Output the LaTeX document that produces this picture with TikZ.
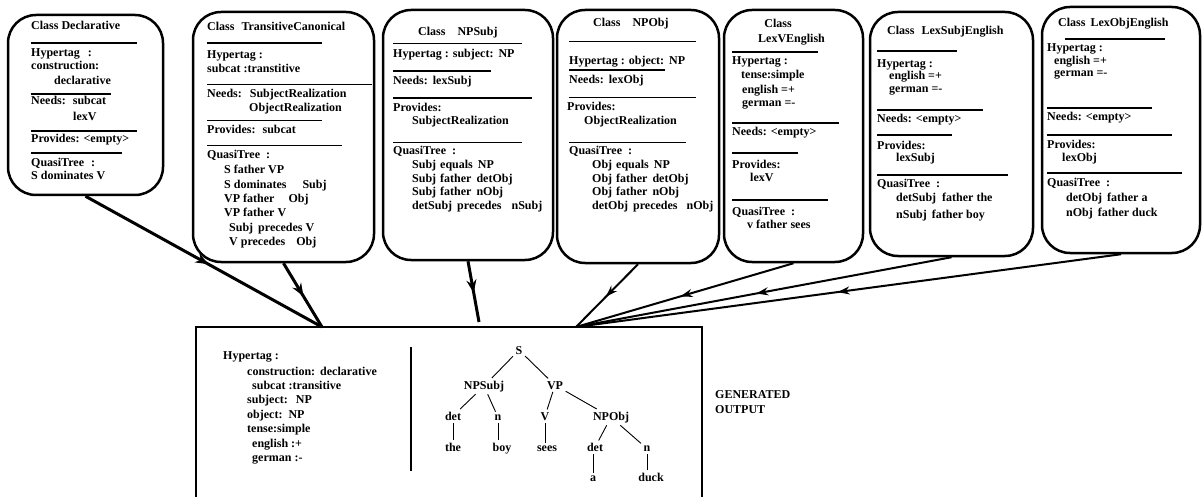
\documentclass[tikz,border=0pt]{standalone}
\usepackage{fontspec}
\setmainfont{Liberation Serif}
\usetikzlibrary{arrows.meta,decorations.markings}
\newcommand{\tl}[4]{\node[tx] (#1) at (#2,#3) {#4};}
\begin{document}
\begin{tikzpicture}[x=1pt,y=-1pt,
  cbox/.style={draw,line width=2.5pt,rounded corners=28pt,inner sep=0pt},
  tx/.style={anchor=base west,inner sep=0pt,font=\fontsize{12}{14}\selectfont\bfseries},
  tn/.style={anchor=base,inner sep=2.5pt,font=\fontsize{12}{14}\selectfont\bfseries},
  rl/.style={line width=1.2pt},
  tree/.style={line width=0.9pt},
  conn/.style={line width=2pt,postaction={decorate},decoration={markings,mark=at position 0.52 with {\arrow{Stealth[length=12pt,width=8pt]}}}},
  connthick/.style={line width=3pt,postaction={decorate},decoration={markings,mark=at position 0.52 with {\arrow{Stealth[length=13pt,width=10pt]}}}}]
\useasboundingbox (0,0) rectangle (1202,497);
\fill[white] (0,0) rectangle (1202,497);

% ---------- class boxes ----------
\node[cbox,minimum width=155pt,minimum height=180pt] (b1) at (85.5,105) {};
\node[cbox,minimum width=181pt,minimum height=250pt] (b2) at (283.5,137) {};
\node[cbox,minimum width=170pt,minimum height=250pt] (b3) at (468,135) {};
\node[cbox,minimum width=162pt,minimum height=253pt] (b4) at (638,136.5) {};
\node[cbox,minimum width=139pt,minimum height=252pt] (b5) at (793.5,136) {};
\node[cbox,minimum width=163pt,minimum height=244pt] (b6) at (951.5,134) {};
\node[cbox,minimum width=158pt,minimum height=246pt] (b7) at (1121,130) {};

% Box 1
\tl{d1}{31}{30}{Class Declarative}
\draw[rl] (31,43) -- (137,43);
\tl{d2}{31}{57}{Hypertag\hspace{8pt}:}
\tl{d3}{31}{70}{construction:}
\tl{d4}{54}{85}{declarative}
\draw[rl] (31,94) -- (111,94);
\tl{d5}{31}{104.5}{Needs:\hspace{7pt}subcat}
\tl{d6}{73}{121}{lexV}
\draw[rl] (31,131) -- (137,131);
\tl{d7}{31}{143}{Provides: <empty>}
\draw[rl] (31,153) -- (122,153);
\tl{d8}{31}{167}{QuasiTree\hspace{7pt}:}
\tl{d9}{31}{180}{S dominates V}

% Box 2
\tl{t1}{207}{31}{Class\hspace{7pt}TransitiveCanonical}
\draw[rl] (207,43) -- (322,43);
\tl{t2}{207}{58.5}{Hypertag :}
\tl{t3}{207}{72.5}{subcat :transtitive}
\draw[rl] (207,84.3) -- (372,84.3);
\tl{t4}{207}{98}{Needs:\hspace{8pt}SubjectRealization}
\tl{t5}{249}{112}{ObjectRealization}
\draw[rl] (207,120.7) -- (322,120.7);
\tl{t6}{207}{134}{Provides:\hspace{7pt}subcat}
\draw[rl] (207,145.7) -- (342,145.7);
\tl{t7}{207}{159}{QuasiTree\hspace{6pt}:}
\tl{t8}{224}{174}{S father VP}
\tl{t9}{224}{188.5}{S dominates\hspace{16pt}Subj}
\tl{t10}{224}{202.5}{VP father\hspace{14pt}Obj}
\tl{t11}{224}{217}{VP father V}
\tl{t12}{229}{232}{Subj\hspace{5pt}precedes V}
\tl{t13}{229}{246}{V precedes\hspace{11pt}Obj}

% Box 3
\tl{n1}{418}{36}{Class\hspace{12pt}NPSubj}
\draw[rl] (393,43.3) -- (522,43.3);
\tl{n2}{393}{57.5}{Hypertag : subject:\hspace{5pt}NP}
\draw[rl] (393,71) -- (491,71);
\tl{n3}{393}{84.5}{Needs:\hspace{5pt}lexSubj}
\draw[rl] (393,98) -- (532,98);
\tl{n4}{393}{111.5}{Provides:}
\tl{n5}{412}{125}{SubjectRealization}
\draw[rl] (393,142.7) -- (522,142.7);
\tl{n6}{393}{155}{QuasiTree\hspace{6pt}:}
\tl{n7}{412}{169}{Subj\hspace{4pt}equals\hspace{5pt}NP}
\tl{n8}{412}{182.5}{Subj\hspace{4pt}father\hspace{5pt}detObj}
\tl{n9}{412}{196}{Subj\hspace{4pt}father\hspace{5pt}nObj}
\tl{n10}{412}{210}{detSubj\hspace{5pt}precedes\hspace{10pt}nSubj}

% Box 4
\tl{o1}{593}{27}{Class\hspace{12pt}NPObj}
\draw[rl] (569,41.7) -- (696,41.7);
\tl{o2}{569}{65}{Hypertag : object:\hspace{5pt}NP}
\draw[rl] (569,70) -- (665,70);
\tl{o3}{569}{83.5}{Needs:\hspace{5pt}lexObj}
\draw[rl] (569,97.3) -- (696,97.3);
\tl{o4}{567}{111}{Provides:}
\tl{o5}{584}{125}{ObjectRealization}
\draw[rl] (569,142.3) -- (686,142.3);
\tl{o6}{569}{155}{QuasiTree\hspace{6pt}:}
\tl{o7}{592}{169}{Obj\hspace{4pt}equals\hspace{5pt}NP}
\tl{o8}{592}{182.5}{Obj\hspace{4pt}father\hspace{5pt}detObj}
\tl{o9}{592}{196}{Obj\hspace{4pt}father\hspace{5pt}nObj}
\tl{o10}{592}{210}{detObj\hspace{5pt}precedes\hspace{9pt}nObj}

% Box 5
\node[tx,anchor=base] (v1) at (778,28) {Class};
\tl{v2}{758}{43}{LexVEnglish}
\draw[rl] (732,52) -- (818,52);
\tl{v3}{732}{64.5}{Hypertag :}
\tl{v4}{741}{79}{tense:simple}
\tl{v5}{742}{94}{english =+}
\tl{v6}{742}{107}{german =-}
\draw[rl] (732,123) -- (839,123);
\tl{v7}{732}{136}{Needs: <empty>}
\draw[rl] (732,153) -- (798,153);
\tl{v8}{732}{168.5}{Provides:}
\tl{v9}{750}{182}{lexV}
\draw[rl] (732,200) -- (828,200);
\tl{v10}{732}{215}{QuasiTree\hspace{6pt}:}
\tl{v11}{747}{228.5}{v father sees}

% Box 6
\tl{s1}{887}{35}{Class\hspace{7pt}LexSubjEnglish}
\draw[rl] (877,51) -- (957,51);
\tl{s2}{877}{67.5}{Hypertag :}
\tl{s3}{889}{79.5}{english =+}
\tl{s4}{889}{93}{german =-}
\draw[rl] (877,110) -- (983,110);
\tl{s5}{877}{123}{Needs: <empty>}
\draw[rl] (877,135) -- (952,135);
\tl{s6}{877}{149.5}{Provides:}
\tl{s7}{896}{162}{lexSubj}
\draw[rl] (877,175) -- (1008,175);
\tl{s8}{877}{187.5}{QuasiTree\hspace{6pt}:}
\tl{s9}{896}{202}{detSubj\hspace{6pt}father the}
\tl{s10}{896}{218.5}{nSubj\hspace{5pt}father boy}

% Box 7
\tl{l1}{1058}{27}{Class\hspace{5pt}LexObjEnglish}
\draw[rl] (1065,39) -- (1165,39);
\tl{l2}{1047}{52}{Hypertag :}
\tl{l3}{1054}{64.5}{english =+}
\tl{l4}{1054}{77}{german =-}
\draw[rl] (1047,108) -- (1152,108);
\tl{l5}{1047}{121}{Needs: <empty>}
\draw[rl] (1047,135) -- (1172,135);
\tl{l6}{1047}{148.5}{Provides:}
\tl{l7}{1062}{162}{lexObj}
\draw[rl] (1047,173) -- (1182,173);
\tl{l8}{1047}{187}{QuasiTree\hspace{6pt}:}
\tl{l9}{1066}{202}{detObj\hspace{5pt}father a}
\tl{l10}{1066}{217}{nObj\hspace{5pt}father duck}

% ---------- output box ----------
\coordinate (oBL) at (196,505);
\coordinate (oTL) at (196,327);
\coordinate (oTR) at (702,327);
\coordinate (oBR) at (702,505);
\draw[line width=2.5pt] (oBL) -- (oTL) -- (oTR) -- (oBR);
\coordinate (j1) at (322,327);
\coordinate (j2) at (479,322);
\coordinate (j3) at (576,327);

\tl{h1}{223}{359.5}{Hypertag :}
\tl{h2}{247}{375}{construction:\hspace{5pt}declarative}
\tl{h3}{252}{389.5}{subcat :transitive}
\tl{h4}{247}{403.5}{subject:\hspace{8pt}NP}
\tl{h5}{247}{418}{object:\hspace{6pt}NP}
\tl{h6}{247}{432}{tense:simple}
\tl{h7}{252}{447}{english :+}
\tl{h8}{252}{461}{german :-}
\draw[line width=1.2pt] (411,347) -- (411,471);

% tree
\node[tn] (S) at (519,354) {S};
\node[tn] (NPSubj) at (484,389) {NPSubj};
\node[tn] (VP) at (555,389) {VP};
\node[tn] (det1) at (453,420) {det};
\node[tn] (n1) at (498,420) {n};
\node[tn] (V) at (545,420) {V};
\node[tn] (NPObj) at (611,420) {NPObj};
\node[tn] (the) at (453,451.5) {the};
\node[tn] (boy) at (502,451.5) {boy};
\node[tn] (sees) at (547,451.5) {sees};
\node[tn] (det2) at (595,451.5) {det};
\node[tn] (n2) at (647,451.5) {n};
\node[tn] (a) at (593,481) {a};
\node[tn] (duck) at (651,481) {duck};
\draw[tree] (S) -- (NPSubj);
\draw[tree] (S) -- (VP);
\draw[tree] (NPSubj) -- (det1);
\draw[tree] (NPSubj) -- (n1);
\draw[tree] (VP) -- (V);
\draw[tree] (VP) -- (NPObj);
\draw[tree] (det1) -- (the);
\draw[tree] (n1.south) -- (n1.south |- boy.north);
\draw[tree] (V) -- (V |- sees.north);
\draw[tree] (NPObj) -- (det2);
\draw[tree] (NPObj) -- (n2);
\draw[tree] (det2.south -| a) -- (a);
\draw[tree] (n2) -- (n2 |- duck.north);

\tl{g1}{715}{398.5}{GENERATED}
\tl{g2}{715}{413.5}{OUTPUT}

% ---------- connectors ----------
\draw[connthick] (b1.south) -- (j1);
\draw[connthick] (b2.south) -- (j1);
\draw[connthick] (b3.south) -- (j2);
\draw[conn] (b4.south) -- (j3);
\draw[conn] (b5.south) -- (j3);
\draw[conn] (b6.south) -- (j3);
\draw[conn] (b7.south) -- (j3);
\end{tikzpicture}
\end{document}
